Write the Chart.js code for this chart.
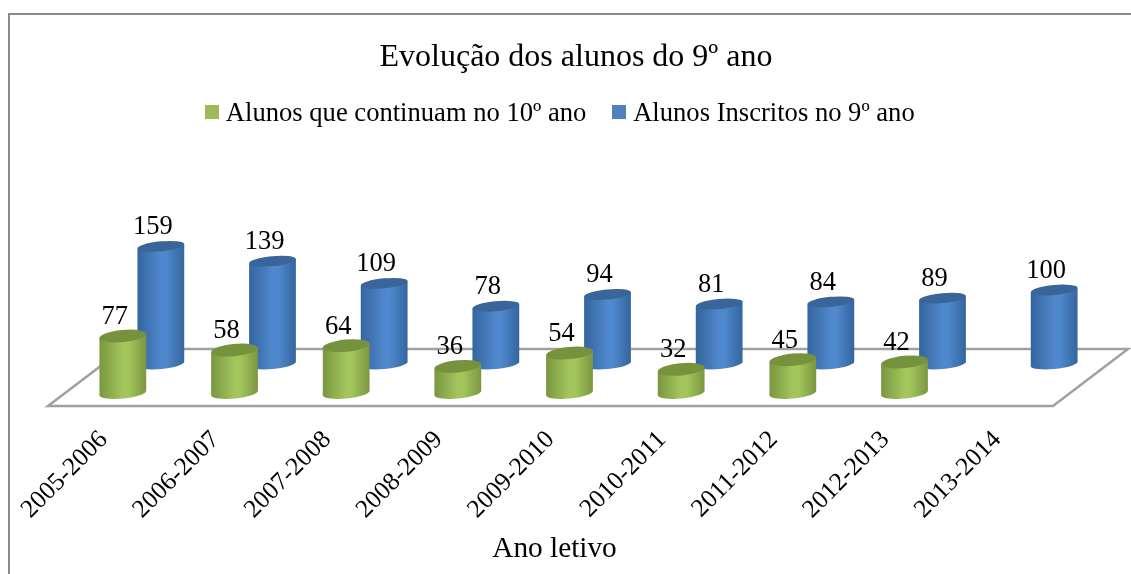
<!DOCTYPE html>
<html>
<head>
<meta charset="utf-8">
<style>html,body{margin:0;padding:0;background:#fff}canvas{display:block}</style>
<script src="https://cdn.jsdelivr.net/npm/chart.js@4"></script>
</head>
<body>
<canvas id="c" width="1131" height="574"></canvas>
<script>
const categories = ["2005-2006","2006-2007","2007-2008","2008-2009","2009-2010","2010-2011","2011-2012","2012-2013","2013-2014"];
const continuam = [77,58,64,36,54,32,45,42,null];
const inscritos = [159,139,109,78,94,81,84,89,100];
const titleText = "Evolução dos alunos do 9º ano";
const axisTitle = "Ano letivo";
const seriesNames = ["Alunos que continuam no 10º ano","Alunos Inscritos no 9º ano"];
const FONT = '"Liberation Serif","Times New Roman",serif';

const styles = [
  {dx:15, dy:13, edge:'#7a9640', mid:'#a2c65c', top:'#76923c', ryTop:6.1, ryBase:5.5},
  {dx:53, dy:42, edge:'#34659e', mid:'#4f88cc', top:'#39659a', ryTop:5, ryBase:5}
];
const RX = 23.5, TILT = -0.095;

function square(color){
  const c = document.createElement('canvas');
  c.width = 14; c.height = 18;
  const g = c.getContext('2d');
  g.fillStyle = color; g.fillRect(0,0,14,14);
  return c;
}

function cylinder(ctx, cx, yTop, yBase, s){
  const sx = RX*Math.cos(TILT), sy = RX*Math.sin(TILT);
  const grad = ctx.createLinearGradient(cx-RX,0,cx+RX,0);
  grad.addColorStop(0, s.edge);
  grad.addColorStop(0.5, s.mid);
  grad.addColorStop(0.62, s.mid);
  grad.addColorStop(1, s.edge);
  ctx.fillStyle = grad;
  ctx.beginPath();
  ctx.ellipse(cx,yBase,RX,s.ryBase,TILT,0,Math.PI*2);
  ctx.fill();
  ctx.beginPath();
  ctx.moveTo(cx-sx,yTop-sy);
  ctx.lineTo(cx+sx,yTop+sy);
  ctx.lineTo(cx+sx,yBase+sy);
  ctx.lineTo(cx-sx,yBase-sy);
  ctx.closePath();
  ctx.fill();
  ctx.fillStyle = s.top;
  ctx.beginPath();
  ctx.ellipse(cx,yTop,RX,s.ryTop,TILT,0,Math.PI*2);
  ctx.fill();
}

const scene = {
  id:'scene',
  afterLayout(chart){
    chart.titleBlock.left = 0;
    chart.titleBlock.right = 1152;
    chart.legend.left = 179;
    chart.legend.top = 68.25;
  },
  beforeDraw(chart){
    const ctx = chart.ctx;
    ctx.save();
    ctx.strokeStyle = '#8a8a8a';
    ctx.lineWidth = 2;
    ctx.beginPath();
    ctx.moveTo(9,574); ctx.lineTo(9,14); ctx.lineTo(1131,14);
    ctx.stroke();
    ctx.restore();
  },
  beforeDatasetsDraw(chart){
    const ctx = chart.ctx, a = chart.chartArea;
    const l = a.left-4, r = a.right-4, y = a.bottom;
    ctx.save();
    ctx.strokeStyle = '#a0a0a0';
    ctx.lineWidth = 2.5;
    ctx.lineJoin = 'miter';
    ctx.beginPath();
    ctx.moveTo(l,y); ctx.lineTo(r,y); ctx.lineTo(r+75,y-57); ctx.lineTo(l+75,y-57); ctx.closePath();
    ctx.stroke();
    ctx.restore();
  },
  beforeDatasetDraw(chart,args){
    const ctx = chart.ctx, s = styles[args.index];
    ctx.save();
    args.meta.data.forEach((bar,i)=>{
      if (chart.data.datasets[args.index].data[i]==null) return;
      cylinder(ctx, bar.x+s.dx, bar.y-s.dy, bar.base-s.dy, s);
    });
    ctx.restore();
    return false;
  },
  afterDatasetsDraw(chart){
    const ctx = chart.ctx;
    ctx.save();
    ctx.fillStyle = '#000';
    ctx.font = '26.5px '+FONT;
    ctx.textAlign = 'center';
    ctx.textBaseline = 'middle';
    chart.data.datasets.forEach((ds,d)=>{
      const s = styles[d];
      chart.getDatasetMeta(d).data.forEach((bar,i)=>{
        if (ds.data[i]==null) return;
        ctx.fillText(String(ds.data[i]), bar.x+s.dx-8, bar.y-s.dy-19);
      });
    });
    ctx.restore();
  }
};

new Chart(document.getElementById('c'),{
  type:'bar',
  data:{
    labels:categories,
    datasets:[
      {label:seriesNames[0],data:continuam,backgroundColor:'#9bbb59',grouped:false},
      {label:seriesNames[1],data:inscritos,backgroundColor:'#4f81bd',grouped:false}
    ]
  },
  options:{
    responsive:false,
    animation:false,
    devicePixelRatio:1,
    layout:{padding:{left:52,right:74,top:10,bottom:0}},
    plugins:{
      tooltip:{enabled:false},
      title:{display:true,text:titleText,color:'#000',font:{family:FONT,size:32,weight:'normal'},padding:{top:28,bottom:0}},
      legend:{
        position:'top',align:'start',
        labels:{
          color:'#000',font:{family:FONT,size:26.6},padding:32.5,
          usePointStyle:true,pointStyleWidth:1,boxHeight:14,
          generateLabels(chart){
            return Chart.defaults.plugins.legend.labels.generateLabels(chart).map((it,i)=>{
              it.pointStyle = square(chart.data.datasets[i].backgroundColor);
              return it;
            });
          }
        }
      }
    },
    scales:{
      x:{
        grid:{display:false},border:{display:false},
        afterFit(scale){scale.height = 168;},
        ticks:{color:'#000',font:{family:FONT,size:25.5},minRotation:45,maxRotation:45,autoSkip:false,padding:11,labelOffset:-4},
        title:{display:true,text:axisTitle,color:'#000',font:{family:FONT,size:29.3},padding:{top:0,bottom:7}}
      },
      y:{display:false,min:0,max:352,grid:{display:false}}
    }
  },
  plugins:[scene]
});
</script>
</body>
</html>
